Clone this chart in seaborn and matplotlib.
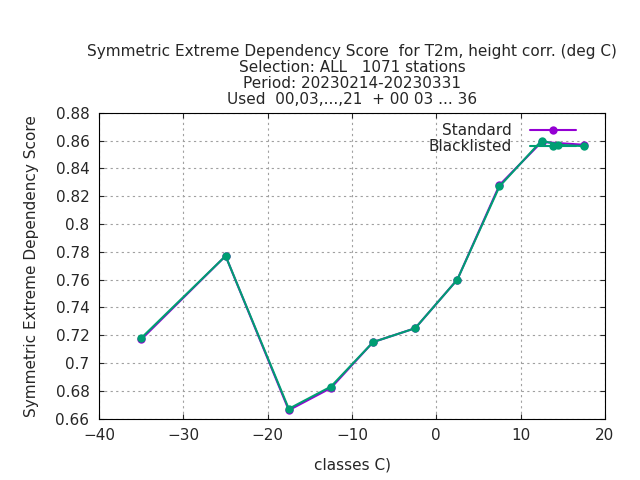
import seaborn as sns
import matplotlib.pyplot as plt
import pandas as pd

x_std = [-35, -25, -17.5, -12.5, -7.5, -2.5, 2.5, 7.5, 12.5, 17.5]
y_std = [0.717, 0.777, 0.666, 0.682, 0.715, 0.725, 0.760, 0.828, 0.859, 0.857]
x_bl = [-35, -25, -17.5, -12.5, -7.5, -2.5, 2.5, 7.5, 12.5, 14.5, 17.5]
y_bl = [0.718, 0.777, 0.667, 0.683, 0.715, 0.725, 0.760, 0.827, 0.860, 0.857, 0.856]

sns.set_style("ticks")
plt.rcParams['font.family'] = ['DejaVu Sans']

df = pd.concat([
    pd.DataFrame({"x": x_std, "y": y_std, "series": "Standard"}),
    pd.DataFrame({"x": x_bl, "y": y_bl, "series": "Blacklisted"}),
])

fig, ax = plt.subplots(figsize=(6.4, 4.8), dpi=100)
sns.lineplot(data=df, x="x", y="y", hue="series", marker="o", markersize=6,
             markeredgewidth=0, linewidth=1.5, estimator=None, sort=False,
             palette={"Standard": "#9400d3", "Blacklisted": "#009e73"}, ax=ax)

ax.set_xlim(-40, 20)
ax.set_ylim(0.66, 0.88)
ax.set_xticks(range(-40, 21, 10))
ax.set_yticks([0.66 + 0.02 * i for i in range(12)])
ax.set_yticklabels([f"{0.66 + 0.02 * i:g}" for i in range(12)])
ax.tick_params(direction="in", labelsize=11, top=True, right=True, pad=7)
ax.grid(True, color="#a0a0a0", linestyle=(0, (2, 3)), linewidth=0.8)
for s in ax.spines.values():
    s.set_color("black")
ax.set_xlabel("classes C)", fontsize=11, labelpad=10)
ax.set_ylabel("Symmetric Extreme Dependency Score", fontsize=11, labelpad=12)
ax.set_title("Symmetric Extreme Dependency Score  for T2m, height corr. (deg C)\n"
             "Selection: ALL   1071 stations\nPeriod: 20230214-20230331\n"
             "Used  00,03,...,21  + 00 03 ... 36", fontsize=11, linespacing=1.1)
leg = ax.legend(loc="upper right", bbox_to_anchor=(0.97, 1.01), frameon=False,
                fontsize=11, markerfirst=False, handlelength=3,
                handletextpad=1.2, labelspacing=0.05)
for t in leg.get_texts():
    t.set_ha("right")
plt.subplots_adjust(left=0.155, right=0.945, top=0.765, bottom=0.128)
fig.savefig("out.png")
